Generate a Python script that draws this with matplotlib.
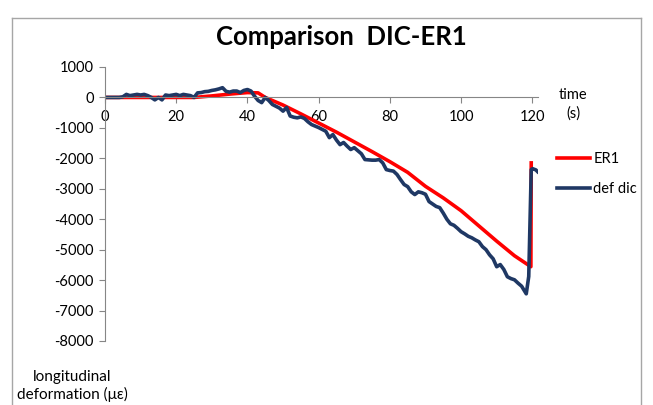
import matplotlib
matplotlib.use("Agg")
import matplotlib.pyplot as plt
from matplotlib.lines import Line2D

plt.rcParams['font.family'] = ['Lato', 'DejaVu Sans']

title = "Comparison  DIC-ER1"
x_label = "time\n(s)"
y_label = "longitudinal\ndeformation (με)"
x_ticks = [0, 20, 40, 60, 80, 100, 120]
y_ticks = [1000, 0, -1000, -2000, -3000, -4000, -5000, -6000, -7000, -8000]

er1_t = [0, 5, 10, 15, 20, 25, 30, 35, 40, 43, 45, 50, 55, 60, 65, 70, 75, 80,
         85, 90, 95, 100, 105, 110, 115, 119.6, 119.7]
er1_v = [0, 0, 0, 0, 0, 0, 50, 110, 160, 150, 0, -250, -540, -840, -1140, -1460,
         -1780, -2110, -2460, -2920, -3300, -3720, -4220, -4720, -5200, -5560, -2150]

dic_t = [0, 1, 2, 3, 4, 5, 6, 7, 8, 9, 10, 11, 12, 13, 14, 15, 16, 17, 18, 19,
         20, 21, 22, 23, 24, 25, 26, 27, 28, 29, 30, 31, 32, 33, 34, 35, 36, 37,
         38, 39, 40, 41, 42, 43, 44, 45, 46, 47, 48, 49, 50, 51, 52, 53, 54, 55,
         56, 57, 58, 59, 60, 61, 62, 63, 64, 65, 66, 67, 68, 69, 70, 71, 72, 73,
         74, 75, 76, 77, 78, 79, 80, 81, 82, 83, 84, 85, 86, 87, 88, 89, 90, 91,
         92, 93, 94, 95, 96, 97, 98, 99, 100, 101, 102, 103, 104, 105, 106, 107,
         108, 109, 110, 111, 112, 113, 114, 115, 116, 117, 118.3, 119.0, 119.7,
         120.1, 121.0, 121.5]
dic_v = [0, 0, 0, 0, 0, 20, 100, 60, 80, 100, 80, 100, 60, 0, -80, 0, -80, 80,
         60, 80, 100, 60, 100, 80, 60, 0, 150, 160, 190, 200, 230, 250, 280, 320,
         200, 175, 210, 210, 160, 230, 260, 210, 40, -100, -170, 0, -100, -230,
         -290, -350, -450, -330, -610, -650, -670, -640, -690, -800, -890, -940,
         -990, -1050, -1110, -1320, -1220, -1400, -1550, -1480, -1600, -1710,
         -1650, -1750, -1850, -2040, -2050, -2060, -2060, -2040, -2150, -2370,
         -2400, -2420, -2530, -2700, -2860, -2930, -3100, -3190, -3100, -3130,
         -3180, -3420, -3500, -3580, -3620, -3800, -4000, -4150, -4200, -4300,
         -4410, -4480, -4560, -4610, -4680, -4740, -4900, -5000, -5170, -5300,
         -5560, -5490, -5650, -5890, -5950, -5990, -6100, -6200, -6450, -5880,
         -2370, -2340, -2380, -2440]

W, H = 653, 405
fig = plt.figure(figsize=(W / 100, H / 100), dpi=100)
fig.patch.set_facecolor("white")

# outer chart frame
frame_col = "#A6A6A6"
fig.add_artist(Line2D([12 / W, 12 / W], [0, 1 - 18 / H], transform=fig.transFigure, color=frame_col, lw=1))
fig.add_artist(Line2D([12 / W, 641 / W], [1 - 18 / H, 1 - 18 / H], transform=fig.transFigure, color=frame_col, lw=1))
fig.add_artist(Line2D([641 / W, 641 / W], [0, 1 - 18 / H], transform=fig.transFigure, color=frame_col, lw=1))

left, right = 105 / W, 538 / W
top, bottom = 1 - 67 / H, 1 - 341 / H
ax = fig.add_axes([left, bottom, right - left, top - bottom])

ax.plot(er1_t, er1_v, color="#FF0000", lw=2.6, label="ER1", solid_joinstyle="round")
ax.plot(dic_t, dic_v, color="#1F3864", lw=2.6, label="def dic", solid_joinstyle="round")

ax.set_xlim(0, 121.6)
ax.set_ylim(-8000, 1000)
ax.set_xticks(x_ticks)
ax.set_yticks(y_ticks)
ax.set_xticklabels([str(v) for v in x_ticks])
ax.set_yticklabels([str(v) for v in y_ticks])

axis_col = "#868686"
for s in ["top", "right"]:
    ax.spines[s].set_visible(False)
ax.spines["bottom"].set_position(("data", 0))
ax.spines["left"].set_color(axis_col)
ax.spines["bottom"].set_color(axis_col)
ax.tick_params(axis="both", colors=axis_col, labelcolor="black", labelsize=10.5,
               length=4, width=0.8)
ax.tick_params(axis="x", pad=5)
ax.tick_params(axis="y", pad=4)
ax.set_facecolor("none")

fig.text(341 / W, 1 - 37 / H, title, ha="center", va="center", fontsize=18.5, fontweight="bold")
fig.text(573 / W, 1 - 104 / H, x_label, ha="center", va="center", fontsize=10.5, linespacing=1.4)
fig.text(72 / W, 1 - 386 / H, y_label, ha="center", va="center", fontsize=11, linespacing=1.25)

leg = ax.legend(loc="upper left", bbox_to_anchor=(551 / W, 1 - 146 / H), bbox_transform=fig.transFigure,
                frameon=False, fontsize=10.5, handlelength=2.3, handletextpad=0.2,
                labelspacing=1.1, borderaxespad=0)

fig.savefig("out.png", dpi=100, facecolor="white")
